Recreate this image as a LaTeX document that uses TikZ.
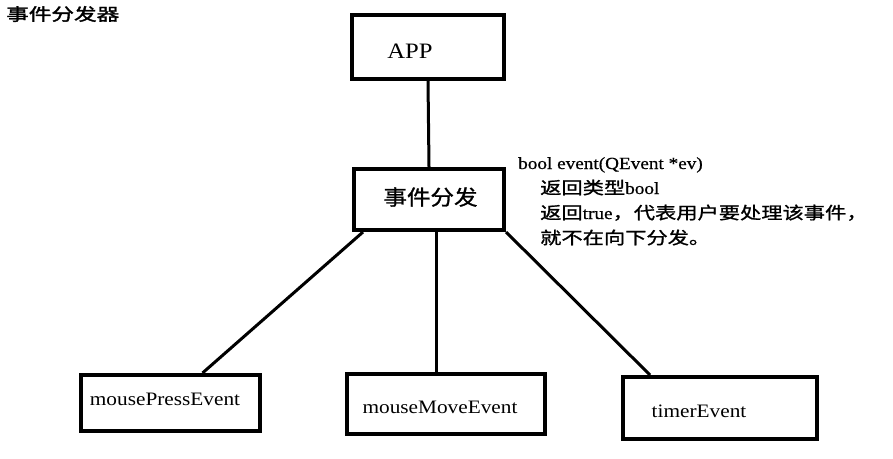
\documentclass[tikz,border=0pt]{standalone}
\usepackage{fontspec}
\setmainfont{Liberation Serif}[FakeStretch=1.12]
\newfontfamily\cjk{Noto Sans CJK SC}[FakeStretch=1.12,FakeBold=1.2]
\newfontfamily\notefont{Liberation Serif}[FakeStretch=1.13,FakeBold=0.6]
\newfontfamily\notecjk{Noto Sans CJK SC}[FakeStretch=1.25,FakeBold=1.2]
\newfontfamily\titlecjk{Noto Sans CJK SC}[FakeStretch=1.33,FakeBold=2]

\begin{document}
\begin{tikzpicture}[x=1pt,y=-1pt,
  box/.style={draw,line width=4pt,inner sep=0pt},
  link/.style={line width=3pt},
  lbl/.style={inner sep=0pt,anchor=base,font=\fontsize{19}{22}\selectfont},
  note/.style={inner sep=0pt,anchor=base west,font=\notefont\fontsize{17}{25}\selectfont}]
\useasboundingbox (0,0) rectangle (893,458);

\node[inner sep=0pt,anchor=west,font=\titlecjk\fontsize{17}{20}\selectfont] (title) at (6,14) {事件分发器};

% boxes
\node[box,minimum width=152,minimum height=64] (app) at (428,47) {};
\node[box,minimum width=150,minimum height=61] (disp) at (429,199.5) {};
\node[box,minimum width=179,minimum height=56] (press) at (170.5,403) {};
\node[box,minimum width=198,minimum height=60] (move) at (446,404) {};
\node[box,minimum width=194,minimum height=62] (timer) at (720,408) {};

% box texts
\node[lbl,font=\fontsize{22}{24}\selectfont] (applbl) at (410,58) {APP};
\node[lbl,font=\cjk\fontsize{21}{24}\selectfont] (displbl) at (430.5,205) {事件分发};
\node[lbl] (presslbl) at (165,405) {mousePressEvent};
\node[lbl] (movelbl) at (440,413) {mouseMoveEvent};
\node[lbl] (timerlbl) at (699,417) {timerEvent};

% note beside the dispatcher
\node[note] (note1) at (518,169) {bool event(QEvent *ev)};
\node[note] (note2) at (540,194) {{\notecjk 返回类型}bool};
\node[note] (note3) at (540,219) {{\notecjk 返回}true{\notecjk ，代表用户要处理该事件，}};
\node[note] (note4) at (540,244) {{\notecjk 就不在向下分发。}};

% links
\draw[link] (app.south) -- (disp.north);
\draw[link] ([xshift=11pt]disp.south west) -- ([xshift=32pt]press.north);
\draw[link] ([xshift=7pt]disp.south) -- ([xshift=-10pt]move.north);
\draw[link] (disp.south east) -- ([xshift=29pt]timer.north west);
\end{tikzpicture}
\end{document}
